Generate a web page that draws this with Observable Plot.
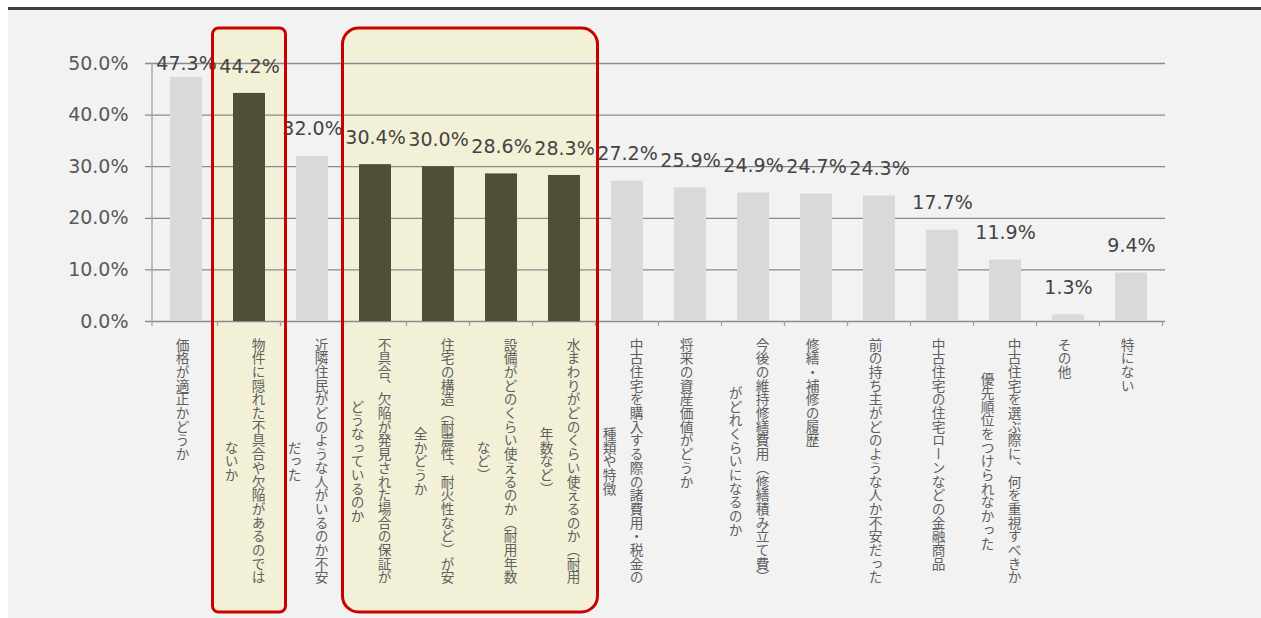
<!DOCTYPE html>
<html>
<head>
<meta charset="utf-8">
<script src="https://cdn.jsdelivr.net/npm/d3@7"></script>
<script src="https://cdn.jsdelivr.net/npm/@observablehq/plot@0.6"></script>
<style>
  html, body { margin: 0; padding: 0; background: #ffffff; }
  #wrap { position: absolute; left: 8px; top: 7px; width: 1253px; }
  #topline { height: 3px; background: #3f3f3f; }
  #chart svg { display: block; background: #f2f2f2; }
</style>
</head>
<body>
<div id="wrap"><div id="topline"></div><div id="chart"></div></div>
<script>
// ---- data ----
const categories = [
  "価格が適正かどうか",
  "物件に隠れた不具合や欠陥があるのでは\nないか",
  "近隣住民がどのような人がいるのか不安\nだった",
  "不具合、欠陥が発見された場合の保証が\nどうなっているのか",
  "住宅の構造（耐震性、耐火性など）が安\n全かどうか",
  "設備がどのくらい使えるのか（耐用年数\nなど）",
  "水まわりがどのくらい使えるのか（耐用\n年数など）",
  "中古住宅を購入する際の諸費用・税金の\n種類や特徴",
  "将来の資産価値がどうか",
  "今後の維持修繕費用（修繕積み立て費）\nがどれくらいになるのか",
  "修繕・補修の履歴",
  "前の持ち主がどのような人か不安だった",
  "中古住宅の住宅ローンなどの金融商品",
  "中古住宅を選ぶ際に、何を重視すべきか\n優先順位をつけられなかった",
  "その他",
  "特にない"
];
const values = [47.3, 44.2, 32.0, 30.4, 30.0, 28.6, 28.3, 27.2, 25.9, 24.9, 24.7, 24.3, 17.7, 11.9, 1.3, 9.4];
const highlighted = [false, true, false, true, true, true, true, false, false, false, false, false, false, false, false, false];
const highlightGroups = [[1, 1], [3, 6]];
const yTicks = [0, 10, 20, 30, 40, 50];

const data = categories.map((c, i) => ({cat: c, value: values[i], hi: highlighted[i]}));

// ---- styles ----
const BAR_LIGHT = "#d9d9d9", BAR_DARK = "#4f4f36";
const BOX_FILL = "#f2f1d8", BOX_STROKE = "#c80000";
const boxStyle = [{padL: 5, padR: 5, r: 6}, {padL: 1, padR: 2, r: 16}];

function slotEdges(x, cat) {
  const step = x.step ? x.step() : x.bandwidth() * 2;
  const c = x(cat) + x.bandwidth() / 2;
  return [c - step / 2, c + step / 2];
}

function boxes(layer) {
  return (index, {x}, values, dims) => {
    const g = d3.create("svg:g");
    highlightGroups.forEach(([a, b], k) => {
      const st = boxStyle[k];
      const x0 = slotEdges(x, categories[a])[0] - st.padL;
      const x1 = slotEdges(x, categories[b])[1] + st.padR;
      const y0 = dims.marginTop - 35;
      const y1 = dims.height - 6;
      g.append("rect")
        .attr("x", x0).attr("y", y0)
        .attr("width", x1 - x0).attr("height", y1 - y0)
        .attr("rx", st.r).attr("ry", st.r)
        .attr("fill", layer === "fill" ? BOX_FILL : "none")
        .attr("stroke", layer === "fill" ? "none" : BOX_STROKE)
        .attr("stroke-width", layer === "fill" ? 0 : 3);
    });
    return g.node();
  };
}

function axisLines(index, {x, y}, values, dims) {
  const g = d3.create("svg:g").attr("stroke", "#a0a0a0").attr("stroke-width", 1.3);
  const left = dims.marginLeft;
  g.append("line").attr("x1", left).attr("x2", left)
    .attr("y1", y(yTicks[yTicks.length - 1])).attr("y2", y(0) + 5);
  const y0 = y(0);
  categories.forEach((c, i) => {
    const [, e] = slotEdges(x, c);
    g.append("line").attr("x1", e).attr("x2", e).attr("y1", y0).attr("y2", y0 + 5);
  });
  return g.node();
}

const chart = Plot.plot({
  width: 1253,
  height: 608,
  marginTop: 53,
  marginBottom: 297,
  marginLeft: 144,
  marginRight: 96,
  style: {fontFamily: "'DejaVu Sans', Verdana, sans-serif", background: "#f2f2f2"},
  x: {domain: categories, paddingInner: 0.5, paddingOuter: 0.25, axis: null},
  y: {domain: [0, 50], axis: null},
  marks: [
    boxes("fill"),
    Plot.ruleY(yTicks, {stroke: "#8a8a8a", strokeWidth: 1.3, insetLeft: -7}),
    axisLines,
    Plot.barY(data, {x: "cat", y: "value", fill: d => d.hi ? BAR_DARK : BAR_LIGHT}),
    Plot.text(data, {
      x: "cat",
      y: d => Math.min(d.value, 44.6),
      text: d => d.value.toFixed(1) + "%",
      dy: -27,
      fontSize: 19,
      fill: "#444444"
    }),
    Plot.text(data, {
      x: "cat",
      text: "cat",
      frameAnchor: "bottom",
      dy: 16,
      textAnchor: "start",
      lineAnchor: "top",
      fontSize: 13.7,
      fontFamily: "'Noto Sans CJK JP', sans-serif",
      fill: "#5f5f5f",
      className: "vlabel"
    }),
    boxes("stroke"),
    Plot.axisY({
      ticks: yTicks,
      tickSize: 0,
      tickPadding: 24,
      tickFormat: d => d.toFixed(1) + "%",
      fontSize: 19,
      color: "#595959",
      label: null
    })
  ]
});

document.getElementById("chart").appendChild(chart);

// vertical (tategaki) category labels
chart.querySelectorAll(".vlabel text").forEach(t => {
  t.style.writingMode = "vertical-rl";
  t.removeAttribute("y");
  const spans = t.querySelectorAll("tspan");
  if (spans.length) {
    let L0 = 0;
    try { L0 = spans[0].getComputedTextLength(); } catch (e) {}
    if (!L0) L0 = spans[0].textContent.length * 13.7;
    spans.forEach((s, k) => {
      s.setAttribute("x", 9 - 27 * k);
      if (k === 0) {
        s.setAttribute("y", 0);
      } else {
        s.setAttribute("y", L0 / 2);
        s.setAttribute("text-anchor", "middle");
      }
      s.removeAttribute("dy");
    });
  } else {
    t.setAttribute("x", -4);
  }
});
</script>
</body>
</html>
